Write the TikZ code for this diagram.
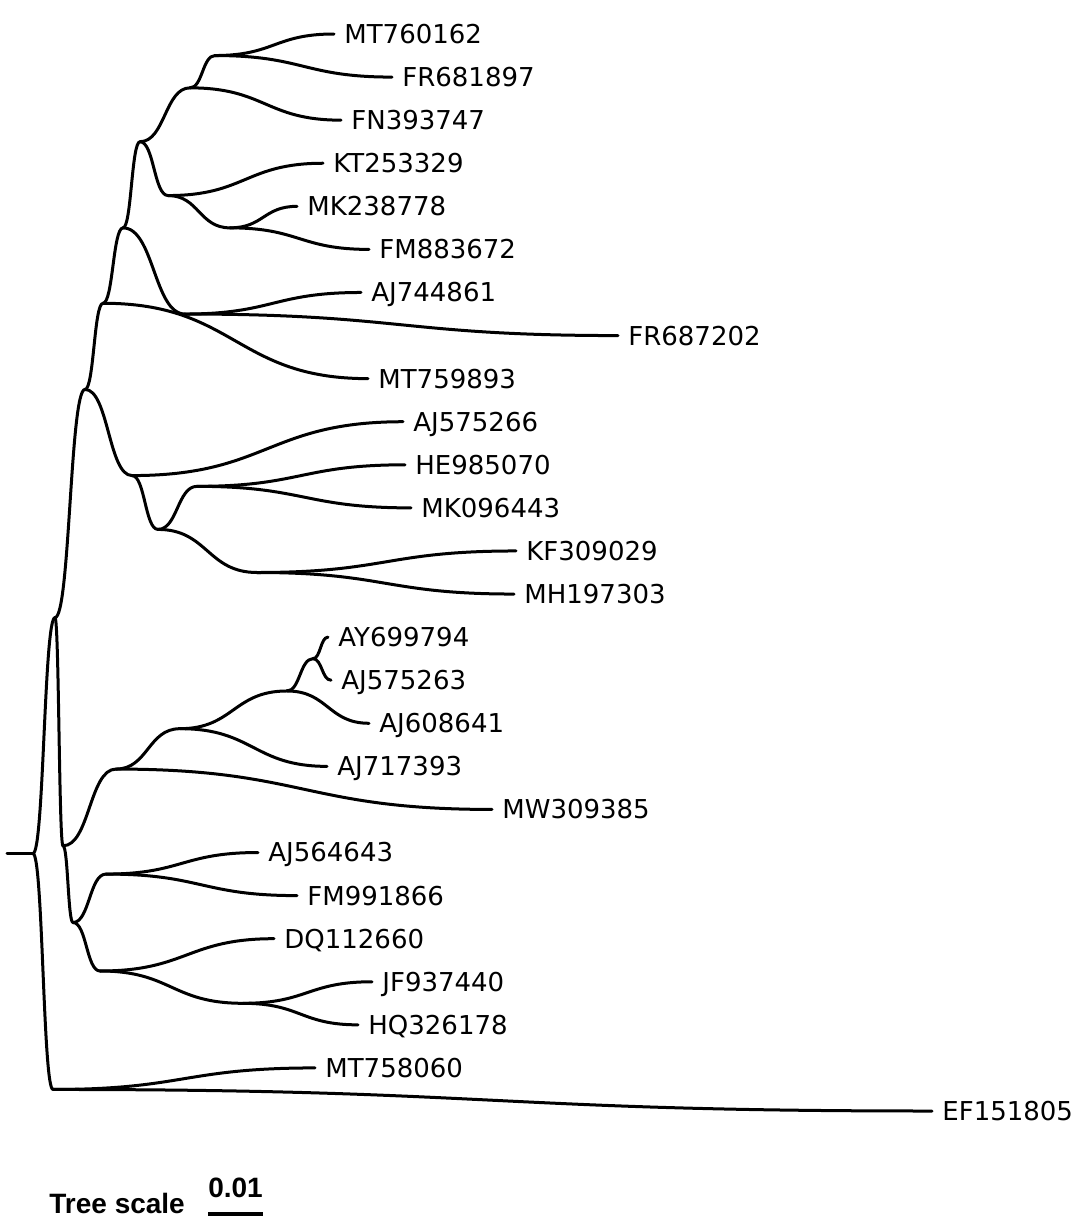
\documentclass[tikz,border=0pt]{standalone}
\usepackage{fontspec}
\setmainfont{DejaVu Sans}
\newfontfamily\scalefont{Liberation Sans}
\usetikzlibrary{calc}
\tikzset{
  branch/.style={line width=1.5pt, line cap=round, line join=round},
  lab/.style={anchor=west, inner sep=0pt, xshift=5pt, text height=9.45pt, text depth=0pt, font=\fontsize{13pt}{15pt}\selectfont},
  scaletxt/.style={inner sep=0pt, font=\scalefont\bfseries\fontsize{14pt}{16pt}\selectfont}
}
\newcommand\br[2]{\draw[branch] let \p1=(#1), \p2=(#2) in (#1) .. controls ({(\x1+\x2)/2},\y1) and ({(\x1+\x2)/2},\y2) .. (#2);}
\begin{document}
\begin{tikzpicture}[x=0.5pt,y=-0.5pt]
\useasboundingbox (0,0) rectangle (1072,1226);
% leaf tips
\coordinate (t0) at (334,34);
\coordinate (t1) at (392,77.08);
\coordinate (t2) at (341,120.16);
\coordinate (t3) at (323,163.24);
\coordinate (t4) at (297,206.32);
\coordinate (t5) at (369,249.4);
\coordinate (t6) at (361,292.48);
\coordinate (t7) at (618,335.56);
\coordinate (t8) at (368,378.64);
\coordinate (t9) at (403,421.72);
\coordinate (t10) at (405,464.8);
\coordinate (t11) at (411,507.88);
\coordinate (t12) at (516,550.96);
\coordinate (t13) at (514,594.04);
\coordinate (t14) at (328,637.12);
\coordinate (t15) at (331,680.2);
\coordinate (t16) at (369,723.28);
\coordinate (t17) at (327,766.36);
\coordinate (t18) at (492,809.44);
\coordinate (t19) at (258,852.52);
\coordinate (t20) at (297,895.6);
\coordinate (t21) at (274,938.68);
\coordinate (t22) at (372,981.76);
\coordinate (t23) at (358,1024.84);
\coordinate (t24) at (315,1067.92);
\coordinate (t25) at (932,1111);
% internal nodes
\coordinate (stub) at (7,853.53);
\coordinate (root) at (33,853.53);
\coordinate (A) at (55,617.6);
\coordinate (B) at (53,1089.46);
\coordinate (C) at (85,389.41);
\coordinate (D) at (63,845.79);
\coordinate (E) at (116,769.05);
\coordinate (F) at (73,922.53);
\coordinate (G) at (180,728.67);
\coordinate (H) at (287,690.97);
\coordinate (I) at (313,658.66);
\coordinate (J) at (106,874.06);
\coordinate (K) at (100,970.99);
\coordinate (L) at (243,1003.3);
\coordinate (M) at (103,303.25);
\coordinate (N) at (132,475.57);
\coordinate (O) at (158,529.42);
\coordinate (P) at (197,486.34);
\coordinate (Q) at (257,572.5);
\coordinate (R) at (123,227.86);
\coordinate (S) at (185,314.02);
\coordinate (T) at (140,141.7);
\coordinate (U) at (190,87.85);
\coordinate (V) at (168,195.55);
\coordinate (W) at (215,55.54);
\coordinate (X) at (230,227.86);
% branches
\draw[branch] (stub) -- (root);
\br{root}{A}\br{root}{B}
\br{A}{C}\br{A}{D}
\br{C}{M}\br{C}{N}
\br{M}{R}\br{M}{t8}
\br{R}{T}\br{R}{S}
\br{T}{U}\br{T}{V}
\br{U}{W}\br{U}{t2}
\br{W}{t0}\br{W}{t1}
\br{V}{t3}\br{V}{X}
\br{X}{t4}\br{X}{t5}
\br{S}{t6}\br{S}{t7}
\br{N}{t9}\br{N}{O}
\br{O}{P}\br{O}{Q}
\br{P}{t10}\br{P}{t11}
\br{Q}{t12}\br{Q}{t13}
\br{D}{E}\br{D}{F}
\br{E}{G}\br{E}{t18}
\br{G}{H}\br{G}{t17}
\br{H}{I}\br{H}{t16}
\br{I}{t14}\br{I}{t15}
\br{F}{J}\br{F}{K}
\br{J}{t19}\br{J}{t20}
\br{K}{t21}\br{K}{L}
\br{L}{t22}\br{L}{t23}
\br{B}{t24}\br{B}{t25}
% labels
\node[lab] (l0) at (t0) {MT760162};
\node[lab] (l1) at (t1) {FR681897};
\node[lab] (l2) at (t2) {FN393747};
\node[lab] (l3) at (t3) {KT253329};
\node[lab] (l4) at (t4) {MK238778};
\node[lab] (l5) at (t5) {FM883672};
\node[lab] (l6) at (t6) {AJ744861};
\node[lab] (l7) at (t7) {FR687202};
\node[lab] (l8) at (t8) {MT759893};
\node[lab] (l9) at (t9) {AJ575266};
\node[lab] (l10) at (t10) {HE985070};
\node[lab] (l11) at (t11) {MK096443};
\node[lab] (l12) at (t12) {KF309029};
\node[lab] (l13) at (t13) {MH197303};
\node[lab] (l14) at (t14) {AY699794};
\node[lab] (l15) at (t15) {AJ575263};
\node[lab] (l16) at (t16) {AJ608641};
\node[lab] (l17) at (t17) {AJ717393};
\node[lab] (l18) at (t18) {MW309385};
\node[lab] (l19) at (t19) {AJ564643};
\node[lab] (l20) at (t20) {FM991866};
\node[lab] (l21) at (t21) {DQ112660};
\node[lab] (l22) at (t22) {JF937440};
\node[lab] (l23) at (t23) {HQ326178};
\node[lab] (l24) at (t24) {MT758060};
\node[lab] (l25) at (t25) {EF151805};
% tree scale
\coordinate (sb1) at (208,1214);
\coordinate (sb2) at (263,1214);
\draw[line width=2pt] (sb1) -- (sb2);
\node[scaletxt, anchor=base] (sbl) at (235.5,1197) {0.01};
\node[scaletxt, anchor=base west] (ts) at (49,1213) {Tree scale};
\end{tikzpicture}
\end{document}
